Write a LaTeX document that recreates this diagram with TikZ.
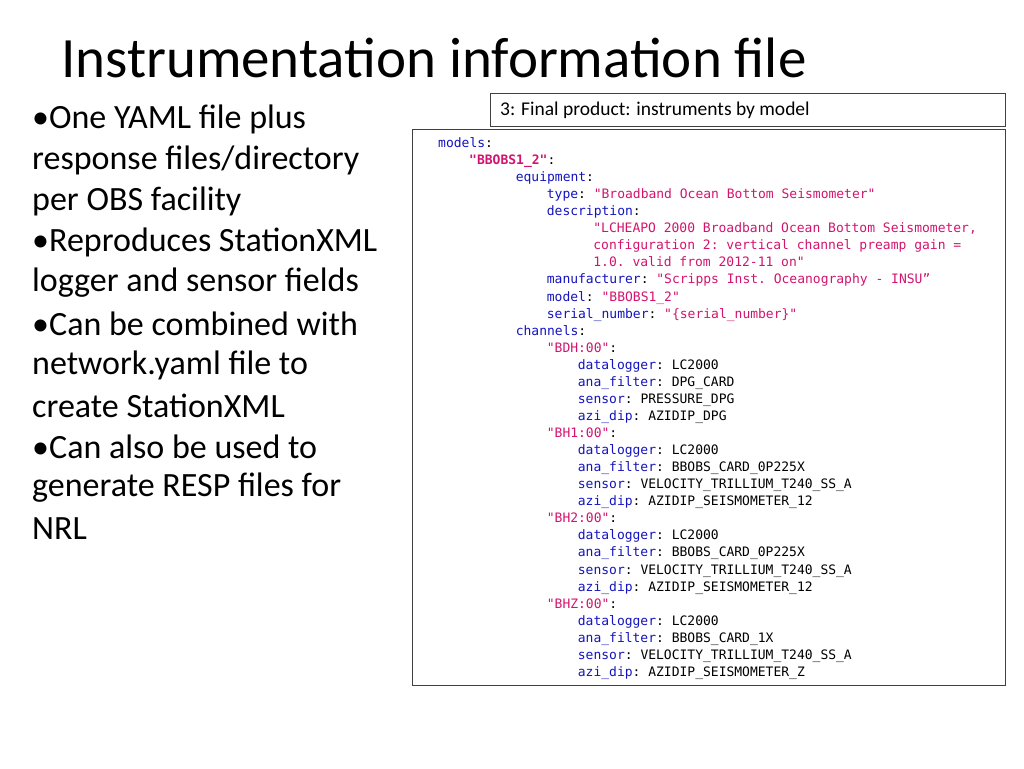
\documentclass[tikz,border=0pt]{standalone}
\usepackage{fontspec}
\setmainfont{Carlito}
\setmonofont{DejaVu Sans Mono}
\definecolor{keyblue}{RGB}{20,20,190}
\definecolor{strmag}{RGB}{210,20,110}
\newcommand{\ky}[1]{\textcolor{keyblue}{#1}}
\newcommand{\st}[1]{\textcolor{strmag}{#1}}
\tikzset{
  bullet/.style={anchor=west, font=\fontsize{34}{40}\selectfont, inner sep=0pt},
  codeline/.style={anchor=base west, font=\fontsize{13}{15}\ttfamily, inner sep=0pt},
  panel/.style={draw=black!75, line width=0.8pt}
}
\begin{document}
\begin{tikzpicture}[x=1pt, y=-1pt]
    \useasboundingbox (0,0) rectangle (1024,768);

    % Title
    \node[anchor=west, inner sep=0pt, font=\fontsize{57}{66}\selectfont] (title) at (61,58) {Instrumentation information file};

    % Bullets
    \node[bullet] (b1) at (32,119) {\textbullet One YAML file plus};
    \node[bullet] (b2) at (32,160) {response files/directory};
    \node[bullet] (b3) at (32,201) {per OBS facility};
    \node[bullet] (b4) at (32,242) {\textbullet Reproduces StationXML};
    \node[bullet] (b5) at (32,283) {logger and sensor fields};
    \node[bullet] (b6) at (32,324) {\textbullet Can be combined with};
    \node[bullet] (b7) at (32,365) {network.yaml file to};
    \node[bullet] (b8) at (32,406) {create StationXML};
    \node[bullet] (b9) at (32,447) {\textbullet Can also be used to};
    \node[bullet] (b10) at (32,488) {generate RESP files for};
    \node[bullet] (b11) at (32,529) {NRL};

    % Header and code panels
    \draw[panel] (490,93) rectangle (1005,126);
    \node[anchor=west, inner sep=0pt, font=\fontsize{19.5}{23}\selectfont] (head) at (500,110) {3: Final product: instruments by model};
    \draw[panel] (412,129) rectangle (1005,685);

    % Code lines: indent in characters, then text
    \def\cw{7.76}
    \foreach \n/\ind/\txt in {
      1/0/{\ky{models}:},
      2/4/{\textbf{\st{"BBOBS1\_2"}}:},
      3/10/{\ky{equipment}:},
      4/14/{\ky{type}: \st{"Broadband Ocean Bottom Seismometer"}},
      5/14/{\ky{description}:},
      6/20/{\st{"LCHEAPO 2000 Broadband Ocean Bottom Seismometer,}},
      7/20/{\st{configuration 2: vertical channel preamp gain =}},
      8/20/{\st{1.0. valid from 2012-11 on"}},
      9/14/{\ky{manufacturer}: \st{"Scripps Inst. Oceanography - INSU”}},
      10/14/{\ky{model}: \st{"BBOBS1\_2"}},
      11/14/{\ky{serial\_number}: \st{"\{serial\_number\}"}},
      12/10/{\ky{channels}:},
      13/14/{\st{"BDH:00"}:},
      14/18/{\ky{datalogger}: LC2000},
      15/18/{\ky{ana\_filter}: DPG\_CARD},
      16/18/{\ky{sensor}: PRESSURE\_DPG},
      17/18/{\ky{azi\_dip}: AZIDIP\_DPG},
      18/14/{\st{"BH1:00"}:},
      19/18/{\ky{datalogger}: LC2000},
      20/18/{\ky{ana\_filter}: BBOBS\_CARD\_0P225X},
      21/18/{\ky{sensor}: VELOCITY\_TRILLIUM\_T240\_SS\_A},
      22/18/{\ky{azi\_dip}: AZIDIP\_SEISMOMETER\_12},
      23/14/{\st{"BH2:00"}:},
      24/18/{\ky{datalogger}: LC2000},
      25/18/{\ky{ana\_filter}: BBOBS\_CARD\_0P225X},
      26/18/{\ky{sensor}: VELOCITY\_TRILLIUM\_T240\_SS\_A},
      27/18/{\ky{azi\_dip}: AZIDIP\_SEISMOMETER\_12},
      28/14/{\st{"BHZ:00"}:},
      29/18/{\ky{datalogger}: LC2000},
      30/18/{\ky{ana\_filter}: BBOBS\_CARD\_1X},
      31/18/{\ky{sensor}: VELOCITY\_TRILLIUM\_T240\_SS\_A},
      32/18/{\ky{azi\_dip}: AZIDIP\_SEISMOMETER\_Z}
    } {
      \node[codeline] (l\n) at ({438+\ind*\cw}, {147.5+(\n-1)*17.06}) {\txt};
    }
\end{tikzpicture}
\end{document}
